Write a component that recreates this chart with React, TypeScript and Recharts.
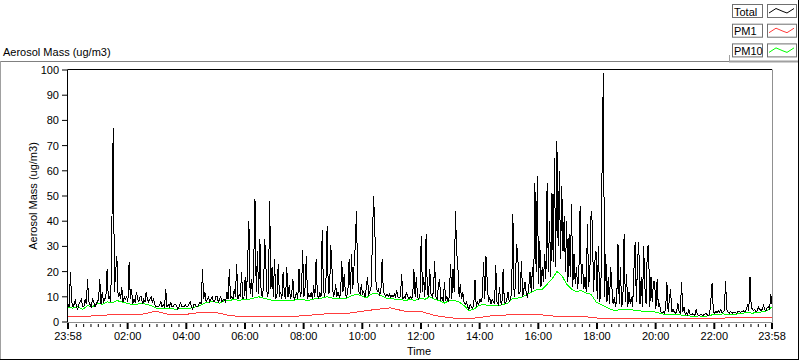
import React from 'react';
import { LineChart, Line, XAxis, YAxis } from 'recharts';

// Total mass, one sample every 2.5 minutes from 23:58 (one row per hour)
const totalMass = [
  7, 6, 20, 8, 6, 7, 9, 6, 5, 7, 8, 9, 6, 6, 9, 7, 17, 8, 7, 6, 9, 8, 6, 7,
  8, 9, 17, 7, 12, 8, 9, 10, 21, 9, 10, 8, 42, 77, 12, 20, 26, 10, 12, 9, 14, 8, 10, 9,
  10, 8, 24, 9, 13, 7, 9, 8, 12, 9, 8, 10, 10, 7, 9, 8, 12, 9, 8, 9, 10, 8, 9, 7,
  6, 6, 6, 7, 8, 6, 7, 6, 13, 6, 7, 6, 8, 6, 6, 7, 7, 6, 5, 6, 8, 6, 6, 6,
  7, 6, 6, 7, 8, 6, 5, 7, 7, 6, 6, 7, 8, 7, 21, 9, 12, 8, 9, 10, 8, 9, 10, 8,
  8, 10, 10, 8, 9, 10, 8, 9, 9, 8, 12, 9, 21, 9, 10, 9, 13, 10, 23, 9, 11, 10, 20, 9,
  10, 18, 9, 24, 40, 11, 17, 10, 24, 49, 12, 28, 11, 33, 12, 10, 14, 33, 21, 10, 12, 48, 13, 22,
  10, 25, 9, 11, 23, 10, 12, 9, 20, 11, 9, 22, 10, 14.5, 9, 11, 17, 9, 10, 12, 9, 21, 10, 12,
  28.5, 10, 14, 26, 9, 11, 10, 12, 9, 14.5, 10, 25, 11, 9, 12, 10, 36.5, 13, 10, 15, 38, 11, 12, 30.5,
  21, 10, 11, 15, 10, 12, 10, 11, 24, 12, 19, 11, 10, 12, 25, 11, 27, 13, 22, 30, 44, 17, 12, 11,
  15, 11, 12, 10, 13, 18, 11, 12, 14, 31, 50, 38, 16, 12, 13, 11, 12, 25, 12, 11, 10, 11, 10, 11,
  10, 10.5, 10, 11, 10, 12.5, 10, 9.5, 10, 19, 9, 10, 9.5, 12, 10, 9, 10, 9.5, 10, 21, 10, 18, 10, 9,
  11, 34, 12, 18, 10, 35, 12, 10, 21, 11, 10, 12, 24, 10, 9, 14, 17, 9, 10, 8, 16, 9, 10, 8,
  10, 23, 9, 21, 12, 44, 28, 22, 10, 15, 9, 12, 8, 7, 8, 6, 5, 7, 6, 5.5, 7, 16.7, 6, 8,
  7, 9, 8, 10, 24, 9, 26, 16, 8, 10, 7, 9, 8, 7, 22.6, 8, 7, 14, 8, 7, 21, 8, 7.5, 9,
  12, 8, 9, 12, 43, 10, 14, 31, 27, 11, 12, 24, 10, 13, 16, 11, 10, 14, 20, 12, 22, 13, 55, 20,
  58, 15, 32, 14, 22, 16, 27, 17, 55, 20, 40, 18, 51, 24, 65, 22, 72, 30, 60, 25, 54, 28, 42, 20,
  40, 16, 35, 18, 47, 14, 27, 15, 22, 13, 20, 46, 15, 23, 13, 18, 12, 39, 14, 20, 44, 39, 12, 24,
  28, 9, 30, 8, 12, 63, 99, 10, 27, 8, 18, 7, 22, 14, 7, 10, 6, 9, 31, 7, 22, 6, 9, 35,
  8, 19, 6, 12, 7, 10, 6, 20, 31.6, 8, 24, 31.6, 7, 18, 6, 30, 14, 7, 30, 30.3, 6, 18, 8, 16,
  16, 5, 17, 6, 7, 4, 3.5, 4, 3.5, 5, 16, 4, 8.6, 13, 4, 5, 4, 3.5, 4, 7.5, 4, 3.5, 16, 4,
  6, 3, 3.5, 2.8, 5, 3, 2.8, 3.2, 3, 2.6, 5, 3, 2.5, 2.8, 3, 2.6, 2.8, 3.2, 3.5, 2.8, 2.5, 3, 9, 15.6,
  4, 3.5, 4.3, 3.8, 4.5, 4, 5, 3.8, 4, 4.5, 16.3, 5, 4, 3.5, 4.3, 3.8, 3.5, 4, 3.8, 3.5, 4, 4.2, 3.8, 4,
  4, 4.5, 4, 5, 7, 4.5, 18, 6, 5, 4.5, 5, 4, 4.5, 6, 5, 4.5, 5, 6.5, 5, 4.5, 5.5, 6, 5, 11,
  7,
];

// PM10, one sample every 10 minutes
const pm10Mass = [
  6, 5.5, 6, 5, 6.5, 6,
  7.5, 7, 8, 7.5, 8.5, 8,
  7.5, 7, 7, 7.5, 7, 6.5,
  5.5, 5.5, 5.5, 5.5, 5, 5.5,
  5.5, 5.5, 6, 6.5, 7.5, 8,
  8, 7.5, 8.5, 8.5, 9, 8.5,
  9, 9, 9.5, 10, 9.5, 9,
  8.5, 8.5, 8.5, 8.5, 8.5, 9,
  9, 8.5, 9, 9.5, 9.5, 10,
  9.5, 9.5, 9.5, 9.5, 10.5, 11,
  10.5, 9.5, 11, 11.5, 10.5, 9.5,
  9.5, 9, 9, 8.5, 9, 8.5,
  9.5, 9, 10, 9, 8.5, 7.5,
  8.5, 8.5, 8, 6.5, 4.5, 5,
  6.5, 7, 6.5, 6.5, 6.5, 7,
  7.5, 9.5, 9.5, 10, 11, 12,
  13, 13, 15, 17, 20, 18.5,
  15, 13, 12, 12.5, 11.5, 11,
  8, 7, 6, 5, 4.5, 5,
  5, 5, 4.5, 4.5, 4, 4,
  4, 3.5, 3, 3, 3, 3,
  2.5, 2.4, 2.3, 2.4, 2.3, 2.4,
  3, 3, 3.2, 3, 3, 3.2,
  3.5, 3.8, 3.5, 3.8, 4, 4.5,
  6,
];

// PM1, one sample every 30 minutes
const pm1Mass = [
  2.3, 2.2, 2.5, 2.9, 3.0, 3.0, 4.3, 2.8, 3.0, 3.8, 3.9, 2.6,
  2.0, 2.1, 2.1, 2.3, 2.4, 3.0, 3.4, 3.4, 4.2, 5.0, 5.6, 4.2,
  4.3, 2.6, 1.7, 1.2, 1.7, 2.6, 2.8, 2.9, 3.0, 2.4, 2.0, 2.3,
  1.6, 1.4, 1.3, 1.3, 1.2, 1.3, 1.4, 1.4, 1.5, 1.6, 1.6, 1.7,
  1.8,
];

const majorTicks = [0, 122, 242, 362, 482, 602, 722, 842, 962, 1082, 1202, 1322, 1440];
const majorLabels = ['23:58', '02:00', '04:00', '06:00', '08:00', '10:00', '12:00', '14:00', '16:00', '18:00', '20:00', '22:00', '23:58'];
const yTicks = [0, 10, 20, 30, 40, 50, 60, 70, 80, 90, 100];

const seriesNames = ['Total', 'PM1', 'PM10'];
const seriesColors = ['#000000', '#ff3c3c', '#00ff00'];

const FONT = '"Liberation Sans", Arial, sans-serif';

const data = totalMass.map((v, k) => ({
  t: k * 2.5,
  total: v,
  pm10: k % 4 === 0 ? pm10Mass[k / 4] : undefined,
  pm1: k % 12 === 0 ? pm1Mass[k / 12] : undefined,
}));

// quarter-hour minor ticks on the clock (00:00 is 2 min after start)
const minorTicks: number[] = [];
for (let t = 17; t < 1440; t += 15) {
  if ((t - 2) % 120 !== 0) minorTicks.push(t);
}
const xTicks = [...majorTicks, ...minorTicks].sort((a, b) => a - b);

const XTick = (props: any) => {
  const { x, y, payload } = props;
  const idx = majorTicks.indexOf(payload.value);
  if (idx < 0) {
    return <line x1={x} x2={x} y1={y + 2} y2={y + 5} stroke="#000" strokeWidth={1} />;
  }
  return (
    <g>
      <line x1={x} x2={x} y1={y + 1} y2={y + 7} stroke="#000" strokeWidth={2} />
      <text x={x} y={y + 17.5} textAnchor="middle" fontSize={11} fontFamily={FONT} fill="#000">
        {majorLabels[idx]}
      </text>
    </g>
  );
};

const YTick = (props: any) => {
  const { x, y, payload } = props;
  return (
    <g>
      <line x1={x - 6} x2={x - 1} y1={y} y2={y} stroke="#000" strokeWidth={1} />
      <text x={x - 9} y={y + 4} textAnchor="end" fontSize={11} fontFamily={FONT} fill="#000">
        {payload.value}
      </text>
    </g>
  );
};

const swatch = '769,13 776,8.5 783,11.5 787,13 794,8.5';

const App: React.FC = () => {
  return (
    <div style={{ position: 'absolute', left: 0, top: 0, width: 800, height: 361, background: '#fff' }}>
      <style>{'.recharts-line-curve { shape-rendering: crispEdges; }'}</style>
      <LineChart width={800} height={361} data={data} margin={{ top: 70, right: 28, bottom: 9, left: 8 }}>
        <XAxis
          dataKey="t"
          type="number"
          domain={[0, 1440]}
          ticks={xTicks}
          interval={0}
          tick={<XTick />}
          tickLine={false}
          axisLine={false}
          tickSize={0}
          tickMargin={0}
          height={30}
        />
        <YAxis
          type="number"
          domain={[0, 100]}
          ticks={yTicks}
          interval={0}
          tick={<YTick />}
          tickLine={false}
          axisLine={false}
          tickSize={0}
          tickMargin={0}
          width={60}
          allowDataOverflow
        />
        <Line type="linear" dataKey="pm10" stroke={seriesColors[2]} strokeWidth={1} dot={false} connectNulls isAnimationActive={false} />
        <Line type="linear" dataKey="pm1" stroke={seriesColors[1]} strokeWidth={1} dot={false} connectNulls isAnimationActive={false} />
        <Line type="linear" dataKey="total" stroke={seriesColors[0]} strokeWidth={1} dot={false} isAnimationActive={false} />
      </LineChart>

      <svg width={800} height={361} style={{ position: 'absolute', left: 0, top: 0, pointerEvents: 'none' }}>
        {/* outer frame */}
        <line x1={0} x2={729} y1={61.5} y2={61.5} stroke="#808080" />
        <line x1={729} x2={798} y1={61.5} y2={61.5} stroke="#a0a0a0" strokeWidth={2} />
        <line x1={729.5} x2={729.5} y1={55} y2={62} stroke="#a0a0a0" />
        <line x1={0.5} x2={0.5} y1={61} y2={360} stroke="#a0a0a0" />
        <line x1={0} x2={799} y1={359.5} y2={359.5} stroke="#000" />
        <line x1={798.5} x2={798.5} y1={0} y2={360} stroke="#000" />

        {/* plot border */}
        <line x1={67.5} x2={772} y1={69.5} y2={69.5} stroke="#000" />
        <line x1={67.5} x2={67.5} y1={69.5} y2={322.5} stroke="#000" />
        <line x1={67.5} x2={772.5} y1={322.5} y2={322.5} stroke="#909090" />
        <line x1={772.5} x2={772.5} y1={69.5} y2={322.5} stroke="#909090" />

        <text x={3} y={56} fontSize={11} fontFamily={FONT} fill="#000">Aerosol Mass (ug/m3)</text>
        <text x={0} y={0} transform="translate(37,196) rotate(-90)" textAnchor="middle" fontSize={11} fontFamily={FONT} fill="#000">
          Aerosol Mass (ug/m3)
        </text>
        <text x={419} y={355} textAnchor="middle" fontSize={11} fontFamily={FONT} fill="#000">Time</text>

        {/* legend */}
        {seriesNames.map((name, i) => {
          const top = 4 + i * 19.7;
          return (
            <g key={name} transform={`translate(0,${top - 4})`}>
              <rect x={732.5} y={4.5} width={30} height={13} fill="#fff" stroke="#707070" />
              <text x={734} y={15.5} fontSize={11} fontFamily={FONT} fill="#000">{name}</text>
              <rect x={767.5} y={4.5} width={29} height={13} fill="#fff" stroke="#707070" />
              <polyline points={swatch} fill="none" stroke={seriesColors[i]} strokeWidth={1} />
            </g>
          );
        })}
      </svg>
    </div>
  );
};

export default App;
